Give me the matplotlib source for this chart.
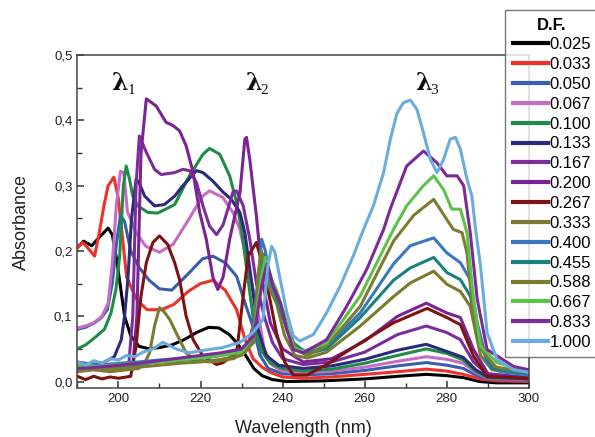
import matplotlib
matplotlib.use("Agg")
import matplotlib.pyplot as plt
from matplotlib.ticker import MultipleLocator, FuncFormatter
from matplotlib.transforms import offset_copy

plt.rcParams['font.family'] = ['Liberation Sans', 'DejaVu Sans']

# Dilution factors and the colour of each spectrum
dilution = ["0.025", "0.033", "0.050", "0.067", "0.100", "0.133", "0.167", "0.200",
            "0.267", "0.333", "0.400", "0.455", "0.588", "0.667", "0.833", "1.000"]
colors = ["#000000", "#f0302a", "#3b5eab", "#c76cc4", "#1f8c45", "#2c2a7a", "#7b2e9a", "#7a2392",
          "#7d1313", "#7c7a2e", "#3978c0", "#1a7f80", "#7c7c30", "#5cc24a", "#7b2a98", "#6cacdc"]

# Absorbance spectra: (wavelength nm, absorbance)
s_0025 = [(190, 0.205), (191.5, 0.215), (193.5, 0.208), (195.5, 0.222), (197.5, 0.235), (198.5, 0.225),
          (199.5, 0.19), (200.5, 0.145), (201.5, 0.100), (203.0, 0.070), (205.0, 0.054), (207.5, 0.050),
          (210.0, 0.052), (213.0, 0.056), (216.0, 0.064), (219.0, 0.075), (222.0, 0.083), (224.5, 0.082),
          (227.0, 0.072), (229.0, 0.058), (231.0, 0.040), (233.0, 0.020), (235.0, 0.009), (237.5, 0.003),
          (241, 0.0), (250, 0.001), (260, 0.004), (268, 0.008), (275, 0.011), (280, 0.009), (284, 0.006),
          (288, 0.0), (292, -0.002), (300, -0.002)]
s_0033 = [(190, 0.205), (191.3, 0.213), (192.5, 0.205), (194.2, 0.192), (195.4, 0.23), (196.5, 0.27),
          (197.5, 0.30), (198.9, 0.313), (200.0, 0.28), (201, 0.22), (202, 0.16), (204.5, 0.125),
          (207, 0.11), (210.5, 0.11), (213.5, 0.118), (217, 0.138), (220, 0.15), (223, 0.155), (226, 0.14),
          (228.8, 0.11), (230.8, 0.065), (232.8, 0.035), (235, 0.022), (237, 0.014), (240, 0.007),
          (245, 0.005), (252, 0.007), (260, 0.011), (268, 0.015), (275, 0.019), (280, 0.016), (284, 0.011),
          (288, 0.004), (292, 0.001), (300, 0.0)]
s_0050 = [(190, 0.08), (192, 0.083), (194.2, 0.09), (195.9, 0.098), (197.3, 0.11), (198.5, 0.15),
          (199.5, 0.21), (200.5, 0.255), (201.5, 0.245), (203, 0.2), (205, 0.175), (207.5, 0.155),
          (210, 0.142), (213, 0.14), (217, 0.165), (220.5, 0.188), (223, 0.192), (226, 0.182),
          (228.8, 0.161), (230.8, 0.121), (232.8, 0.084), (234.5, 0.04), (236.5, 0.02), (240, 0.012),
          (245, 0.01), (252, 0.012), (260, 0.017), (268, 0.024), (275, 0.029), (280, 0.025), (284, 0.02),
          (287, 0.01), (290, 0.004), (300, 0.002)]
s_0067 = [(190, 0.082), (192, 0.085), (194, 0.09), (196, 0.1), (197.5, 0.12), (198.5, 0.18), (199.5, 0.27),
          (200.5, 0.322), (201.3, 0.32), (202.2, 0.26), (204.3, 0.228), (206.7, 0.207), (210, 0.198),
          (213.3, 0.21), (217.3, 0.25), (220.5, 0.284), (222.2, 0.292), (225.4, 0.282), (227.9, 0.259),
          (229.6, 0.233), (231.2, 0.187), (233.6, 0.12), (235.5, 0.05), (237.5, 0.025), (240, 0.016),
          (245, 0.013), (252, 0.016), (260, 0.022), (268, 0.031), (275, 0.038), (280, 0.034), (284, 0.028),
          (287, 0.014), (290, 0.005), (300, 0.003)]
s_0100 = [(190, 0.05), (192, 0.056), (194.2, 0.067), (196.6, 0.08), (198.2, 0.105), (199.4, 0.141),
          (200.3, 0.192), (201.2, 0.3), (201.9, 0.33), (202.7, 0.31), (203.5, 0.284), (204.7, 0.269),
          (207.2, 0.259), (209.6, 0.258), (213.7, 0.271), (217.3, 0.315), (220.6, 0.348), (222.2, 0.357),
          (224.7, 0.348), (227.1, 0.315), (228.8, 0.274), (230, 0.233), (231.5, 0.16), (233, 0.09),
          (235, 0.045), (237, 0.028), (240, 0.02), (245, 0.016), (252, 0.019), (260, 0.028), (268, 0.04),
          (275, 0.05), (280, 0.043), (284, 0.033), (287, 0.016), (290, 0.006), (300, 0.004)]
s_0133 = [(190, 0.028), (193, 0.026), (196, 0.028), (199, 0.038), (200.7, 0.064), (201.5, 0.1),
          (202.3, 0.156), (203.2, 0.25), (204.3, 0.31), (205, 0.305), (206.4, 0.284), (208.8, 0.269),
          (211.2, 0.271), (213.7, 0.284), (215.7, 0.3), (219, 0.323), (220.6, 0.32), (223, 0.307),
          (225.5, 0.29), (227.5, 0.279), (229.6, 0.259), (230.8, 0.228), (232.5, 0.15), (234, 0.08),
          (236, 0.04), (239, 0.025), (245, 0.02), (252, 0.024), (260, 0.034), (268, 0.048), (275, 0.057),
          (280, 0.046), (284, 0.037), (287, 0.018), (290, 0.007), (300, 0.004)]
s_0167 = [(190, 0.02), (195, 0.018), (200, 0.02), (202.5, 0.025), (203.5, 0.1), (204.3, 0.3), (205.1, 0.376),
          (206.8, 0.351), (208.8, 0.325), (210.4, 0.317), (213.7, 0.32), (215.7, 0.325), (217.3, 0.323),
          (219, 0.305), (220.6, 0.269), (222.2, 0.238), (223.9, 0.225), (225.5, 0.24), (227.9, 0.29),
          (228.8, 0.292), (230.4, 0.269), (232, 0.218), (233.6, 0.151), (235.5, 0.1), (237.5, 0.06),
          (240, 0.035), (245, 0.026), (252, 0.03), (260, 0.045), (268, 0.072), (275, 0.085), (280, 0.075),
          (283.3, 0.064), (286.5, 0.03), (290, 0.01), (300, 0.006)]
s_0200 = [(190, 0.018), (195, 0.02), (200, 0.022), (203.5, 0.025), (204.5, 0.1), (205.5, 0.35),
          (206.8, 0.433), (209.2, 0.422), (211.6, 0.397), (213.3, 0.392), (214.9, 0.384), (216.5, 0.361),
          (218.2, 0.32), (219.8, 0.259), (221.4, 0.218), (223, 0.16), (224.2, 0.141), (225.5, 0.16),
          (227.1, 0.218), (229.6, 0.289), (230.8, 0.371), (231.2, 0.374), (232, 0.34), (233.6, 0.254),
          (235.2, 0.151), (237, 0.09), (240, 0.05), (245, 0.03), (252, 0.035), (260, 0.062), (268, 0.1),
          (275, 0.12), (280, 0.105), (283.3, 0.098), (286.5, 0.049), (290, 0.012), (300, 0.006)]
s_0267 = [(190, 0.008), (192, 0.003), (194, 0.008), (196, 0.004), (198, 0.007), (200, 0.005), (203, 0.008),
          (204.3, 0.054), (205.5, 0.131), (206.8, 0.182), (208.4, 0.213), (210, 0.223), (212, 0.21),
          (213.7, 0.182), (214.9, 0.156), (216.5, 0.1), (218.2, 0.064), (220.6, 0.039), (223.9, 0.026),
          (225.5, 0.029), (228.8, 0.044), (230.4, 0.131), (231.6, 0.192), (233.6, 0.213), (235.2, 0.177),
          (236.9, 0.126), (238.5, 0.075), (240.5, 0.03), (242.6, 0.01), (246, 0.01), (250.7, 0.026),
          (258.9, 0.059), (267, 0.09), (275.2, 0.112), (280, 0.098), (283.3, 0.087), (286.5, 0.039),
          (289.8, 0.008), (300, 0.005)]
s_0333 = [(190, 0.015), (194, 0.018), (198, 0.015), (202, 0.018), (205, 0.02), (206.5, 0.03), (207.6, 0.044),
          (208.8, 0.085), (210, 0.113), (211, 0.108), (212.5, 0.095), (214.9, 0.064), (216.5, 0.044),
          (219, 0.031), (223, 0.03), (228, 0.035), (231, 0.045), (233, 0.09), (234.5, 0.185), (235.5, 0.175),
          (237, 0.14), (238.5, 0.12), (240.5, 0.07), (243, 0.04), (246, 0.036), (250.7, 0.045), (258.9, 0.085),
          (267, 0.13), (271.1, 0.151), (276.8, 0.169), (280, 0.149), (283.3, 0.138), (285.7, 0.115),
          (288.2, 0.04), (291, 0.018), (300, 0.01)]
s_0400 = [(190, 0.03), (195, 0.025), (200, 0.028), (205, 0.03), (210, 0.033), (215, 0.035), (220, 0.038),
          (225, 0.042), (230, 0.048), (232.5, 0.06), (233.8, 0.14), (234.9, 0.218), (235.8, 0.2), (237, 0.15),
          (238.5, 0.13), (240.5, 0.09), (243, 0.055), (246, 0.045), (250.7, 0.054), (258.9, 0.105),
          (267, 0.18), (271.1, 0.208), (276.8, 0.22), (280, 0.197), (283.3, 0.182), (285.7, 0.156),
          (287.4, 0.09), (289.8, 0.029), (293, 0.015), (300, 0.01)]
s_0455 = [(190, 0.025), (195, 0.022), (200, 0.024), (205, 0.026), (210, 0.03), (215, 0.032), (220, 0.035),
          (225, 0.04), (230, 0.045), (233, 0.06), (234.5, 0.15), (235.4, 0.195), (236.5, 0.175), (238, 0.14),
          (240, 0.1), (242.5, 0.06), (246, 0.042), (250.7, 0.05), (258.9, 0.098), (267, 0.155), (271.1, 0.174),
          (276.8, 0.19), (280, 0.167), (283.3, 0.156), (285.7, 0.131), (288.2, 0.054), (291, 0.02), (300, 0.012)]
s_0588 = [(190, 0.02), (195, 0.018), (200, 0.02), (205, 0.022), (210, 0.025), (215, 0.028), (220, 0.03),
          (225, 0.034), (230, 0.04), (233, 0.06), (234, 0.16), (234.8, 0.2), (235.8, 0.18), (237.5, 0.15),
          (239, 0.13), (241, 0.08), (243.5, 0.048), (246, 0.04), (250.7, 0.055), (258.9, 0.115), (267, 0.215),
          (272, 0.255), (276.8, 0.279), (280, 0.248), (281.6, 0.233), (283.7, 0.228), (284.9, 0.197),
          (286.5, 0.1), (289, 0.044), (292, 0.022), (300, 0.014)]
s_0667 = [(190, 0.025), (195, 0.023), (200, 0.026), (205, 0.028), (210, 0.03), (215, 0.033), (220, 0.036),
          (225, 0.04), (230, 0.045), (233, 0.07), (234.8, 0.16), (235.8, 0.19), (237, 0.16), (238.5, 0.14),
          (240.5, 0.1), (242.6, 0.052), (245, 0.046), (250.7, 0.059), (258.9, 0.131), (267, 0.233),
          (270.2, 0.269), (274.3, 0.3), (276.8, 0.315), (279.2, 0.294), (281.2, 0.264), (283.3, 0.264),
          (284.9, 0.228), (286.5, 0.126), (288.2, 0.054), (292.2, 0.029), (300, 0.015)]
s_0833 = [(190, 0.02), (195, 0.022), (200, 0.025), (205, 0.028), (210, 0.032), (215, 0.036), (220, 0.04),
          (225, 0.044), (230, 0.05), (233, 0.07), (235, 0.15), (236.2, 0.18), (237.7, 0.146), (239.5, 0.12),
          (241, 0.08), (242.6, 0.049), (245, 0.044), (250.7, 0.064), (255.6, 0.115), (260.5, 0.172),
          (264.6, 0.233), (266.2, 0.264), (270.2, 0.33), (274.3, 0.353), (277.6, 0.335), (280, 0.315),
          (282.5, 0.315), (284.1, 0.3), (285.7, 0.228), (287.4, 0.126), (289.8, 0.049), (296.3, 0.023),
          (300, 0.018)]
s_1000 = [(190, 0.03), (192, 0.025), (194, 0.032), (196, 0.028), (198, 0.035), (200, 0.033), (202, 0.04),
          (204, 0.038), (206, 0.045), (208.5, 0.05), (210.8, 0.06), (212.5, 0.055), (214, 0.05), (217.3, 0.044),
          (221, 0.048), (225.4, 0.052), (229.6, 0.06), (232.8, 0.075), (235.2, 0.095), (236.4, 0.177),
          (237.3, 0.207), (238.1, 0.198), (239.3, 0.16), (241, 0.106), (242.6, 0.07), (244.2, 0.062),
          (247.5, 0.072), (250.7, 0.105), (254, 0.146), (257.2, 0.192), (259.7, 0.233), (262.1, 0.269),
          (264.6, 0.32), (266.2, 0.37), (267.8, 0.41), (269.4, 0.427), (271.1, 0.431), (272.7, 0.417),
          (274.3, 0.381), (276, 0.34), (277.6, 0.32), (279.2, 0.34), (280.8, 0.371), (282.1, 0.374),
          (283.3, 0.356), (284.9, 0.31), (286.1, 0.284), (287, 0.233), (288.2, 0.177), (289.8, 0.075),
          (292.2, 0.034), (296.3, 0.018), (300, 0.014)]

spectra = [s_0025, s_0033, s_0050, s_0067, s_0100, s_0133, s_0167, s_0200,
           s_0267, s_0333, s_0400, s_0455, s_0588, s_0667, s_0833, s_1000]

# Band labels: (subscript, wavelength, absorbance)
band_labels = [("1", 200.3, 0.457), ("2", 232.8, 0.457), ("3", 274.2, 0.457)]

fig = plt.figure(figsize=(5.95, 4.37), dpi=100)
ax = fig.add_axes([0.130, 0.112, 0.759, 0.762])

for spec, col, lab in zip(spectra, colors, dilution):
    wl = [p[0] for p in spec]
    ab = [p[1] for p in spec]
    ax.plot(wl, ab, color=col, lw=2.2, label=lab, solid_joinstyle='round')

ax.set_xlim(190, 300)
ax.set_ylim(-0.01, 0.5)
ax.xaxis.set_major_locator(MultipleLocator(20))
ax.xaxis.set_minor_locator(MultipleLocator(10))
ax.yaxis.set_major_locator(MultipleLocator(0.1))
ax.yaxis.set_minor_locator(MultipleLocator(0.05))
ax.yaxis.set_major_formatter(FuncFormatter(lambda v, p: f"{v:.1f}".replace(".", ",")))
ax.tick_params(which='both', direction='in', top=False, right=False, labelsize=9.5,
               colors='#333333', labelcolor='#222222')
ax.tick_params(which='major', length=5, width=1.1)
ax.tick_params(which='minor', length=3.5, width=1.0)
for sp in ax.spines.values():
    sp.set_color('#444444')
    sp.set_linewidth(1.1)

ax.set_xlabel("Wavelength (nm)", fontsize=13, color='#222222', labelpad=11)
ax.set_ylabel("Absorbance", fontsize=13, color='#222222', labelpad=17)

for sub, x, y in band_labels:
    ax.text(x, y, "\u03bb", fontsize=17, fontweight='bold', family='DejaVu Serif',
            ha='center', va='center', color='#111111')
    t = offset_copy(ax.transData, fig=fig, x=5.5, y=-5, units='points')
    ax.text(x, y, sub, fontsize=11, family='Liberation Serif', ha='left', va='center',
            color='#111111', transform=t)

leg = fig.legend(loc='upper left', bbox_to_anchor=(505 / 595, 1 - 10 / 437),
                 title="D.F.", fontsize=12, title_fontsize=12, frameon=True, fancybox=False,
                 handlelength=2.1, handletextpad=0.12, labelspacing=0.29, borderpad=0.45,
                 borderaxespad=0.0)
leg.get_title().set_fontweight('bold')
leg.get_frame().set_edgecolor('#555555')
leg.get_frame().set_linewidth(1.0)
for line in leg.get_lines():
    line.set_linewidth(3.0)

fig.savefig("out.png", dpi=100)
